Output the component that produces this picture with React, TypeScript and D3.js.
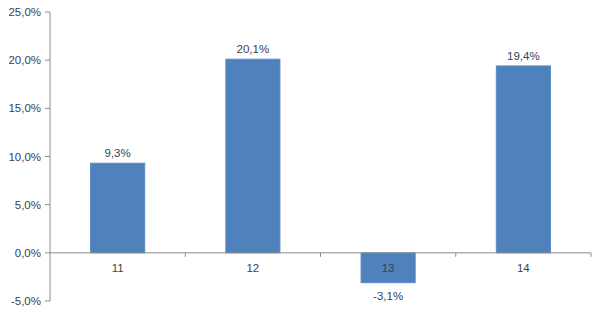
import React from "react";
import * as d3 from "d3";

const categories = ["11", "12", "13", "14"];
const values = [9.3, 20.1, -3.1, 19.4];
const yTicks = [-5, 0, 5, 10, 15, 20, 25];

const W = 600, H = 312;
const left = 50, right = 591, top = 12, bottom = 301;

const fmt = (v: number) => v.toFixed(1).replace(".", ",") + "%";

export default function App() {
  const y = d3.scaleLinear().domain([-5, 25]).range([bottom, top]);
  const x = d3.scaleBand<string>().domain(categories).range([left, right]).paddingInner(0.6).paddingOuter(0.3);
  const step = x.step();
  const axisCol = "#8c8c8c";
  const textCol = "#3a4250";
  const font = "Liberation Sans, Arial, sans-serif";
  return (
    <svg width={W} height={H} style={{ position: "absolute", left: 0, top: 0, background: "#fff" }}>
      <line x1={left} x2={left} y1={y(25)} y2={y(-5)} stroke={axisCol} strokeWidth={1} />
      {yTicks.map((t) => (
        <g key={t}>
          <line x1={left - 5} x2={left} y1={y(t)} y2={y(t)} stroke={axisCol} />
          <text x={41} y={y(t)} dy="0.35em" textAnchor="end" fontFamily={font} fontSize={11.5} fill={textCol}>
            {fmt(t)}
          </text>
        </g>
      ))}
      {categories.map((c, i) => {
        const v = values[i];
        const y0 = y(Math.max(0, v));
        const h = Math.abs(y(v) - y(0));
        return (
          <rect key={c} x={x(c)} y={y0} width={x.bandwidth()} height={h} fill="#4f81bd" stroke="#5a8ac6" strokeWidth={1} />
        );
      })}
      <line x1={left} x2={right} y1={y(0)} y2={y(0)} stroke={axisCol} />
      {categories.map((c, i) => (
        <line key={"t" + c} x1={left + step * (i + 1)} x2={left + step * (i + 1)} y1={y(0)} y2={y(0) + 4} stroke={axisCol} />
      ))}
      {categories.map((c) => (
        <text key={"c" + c} x={(x(c) as number) + x.bandwidth() / 2} y={y(0) + 19} textAnchor="middle" fontFamily={font} fontSize={11.5} fill={textCol}>
          {c}
        </text>
      ))}
      {categories.map((c, i) => {
        const v = values[i];
        const cx = (x(c) as number) + x.bandwidth() / 2;
        const ly = v >= 0 ? y(v) - 6 : y(v) + 17;
        return (
          <text key={"v" + c} x={cx} y={ly} textAnchor="middle" fontFamily={font} fontSize={11.5} fill={textCol}>
            {fmt(v)}
          </text>
        );
      })}
    </svg>
  );
}
